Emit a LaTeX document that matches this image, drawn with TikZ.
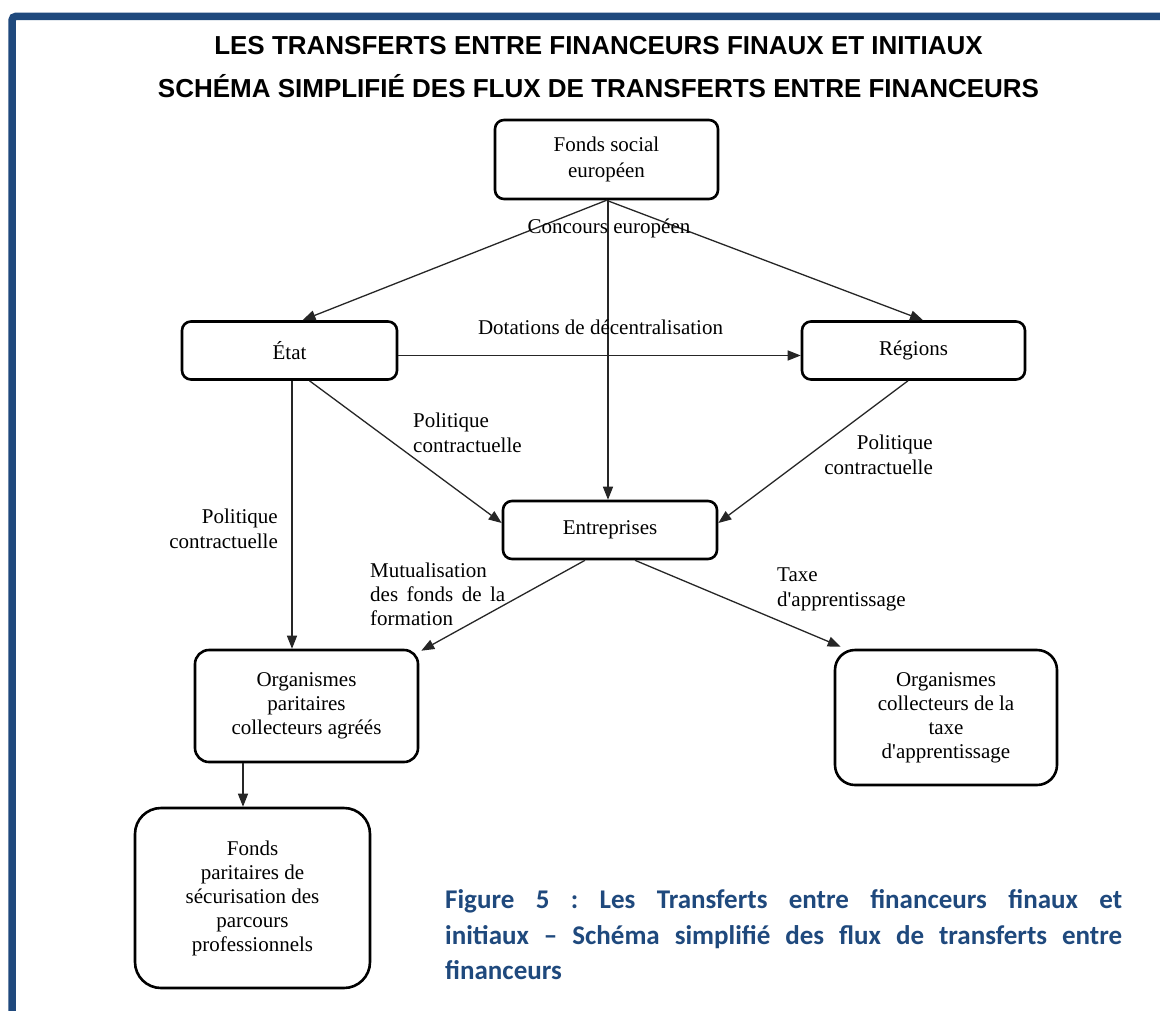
\documentclass[tikz,border=0pt]{standalone}
\usepackage{fontspec}
\setmainfont{Liberation Serif}
\newfontfamily\titlefont{Liberation Sans}
\newfontfamily\capfont{Carlito}
\usetikzlibrary{arrows.meta,calc}
\definecolor{frameblue}{RGB}{31,73,125}
\frenchspacing
\begin{document}
\begin{tikzpicture}[x=1pt,y=-1pt,
  box/.style={draw=black, line width=2.6pt, rounded corners=9pt, align=center, inner sep=0pt,
              font=\fontsize{21}{24}\selectfont},
  lbl/.style={font=\fontsize{21}{25}\selectfont, inner sep=0pt},
  arr/.style={draw=black!85, line width=1.3pt, -{Triangle[length=13pt,width=10pt]}},
  ttl/.style={font=\titlefont\bfseries\fontsize{26}{30}\selectfont, anchor=base, inner sep=0pt},
  captext/.style={font=\capfont\bfseries\fontsize{27}{35}\selectfont, text=frameblue, anchor=base west, inner sep=0pt}
]
\useasboundingbox (0,0) rectangle (1160,1010);
\fill[white] (0,0) rectangle (1160,1010);
\draw[frameblue, line width=7.5pt, rounded corners=4pt] (12,1020) -- (12,16.3) -- (1170,16.3);

% titles
\node[ttl] (t1) at (598.5,54) {LES TRANSFERTS ENTRE FINANCEURS FINAUX ET INITIAUX};
\node[ttl] (t2) at (598.5,97.5) {SCHÉMA SIMPLIFIÉ DES FLUX DE TRANSFERTS ENTRE FINANCEURS};

% boxes
\node[box, minimum width=223pt, minimum height=79pt, font=\fontsize{21}{26}\selectfont] (fse) at (606.5,159.5) {Fonds social\\européen};
\node[box, minimum width=215pt, minimum height=58pt] (etat) at (289.5,350.5) {État};
\node[box, minimum width=223pt, minimum height=58pt] (regions) at (913.5,350.5) {Régions};
\node[box, minimum width=214pt, minimum height=58pt] (ent) at (610,530) {Entreprises};
\node[box, minimum width=223pt, minimum height=112pt, rounded corners=14pt] (opca) at (306.5,706) {Organismes\\paritaires\\collecteurs agréés};
\node[box, minimum width=222pt, minimum height=135pt, rounded corners=20pt] (octa) at (946,717.5) {Organismes\\collecteurs de la\\taxe\\d\textquotesingle apprentissage};
\node[box, minimum width=235pt, minimum height=180pt, rounded corners=26pt] (fpsp) at (252.5,898) {Fonds\\paritaires de\\sécurisation des\\parcours\\professionnels};

% connectors
\coordinate (fb) at ($(fse.south)+(1.5,0)$);
\draw[arr] (fse.south) -- ($(etat.north)+(13,0)$);
\draw[arr] (fse.south) -- ($(regions.north)+(9.5,0)$);
\draw[arr] (fb) -- (fb |- ent.north);
\draw[arr] ($(etat.east)+(0,5)$) -- ($(regions.west)+(0,5)$);
\draw[arr] ($(etat.south)+(20,0)$) -- ($(ent.west)+(0,-7)$);
\draw[arr] ($(regions.south)+(-5.5,0)$) -- ($(ent.east)+(0,-7)$);
\coordinate (eb) at ($(etat.south)+(2.5,0)$);
\draw[arr] (eb) -- (eb |- opca.north);
\draw[arr] ($(ent.south)+(-25,0)$) -- ($(opca.north east)+(2,2)$);
\draw[arr] ($(ent.south)+(25,0)$) -- ($(octa.north west)+(7,-2)$);
\coordinate (ob) at ($(opca.south)+(-63.5,0)$);
\draw[arr] (ob) -- (ob |- fpsp.north);

% labels
\node[lbl] (l1) at (609,228) {Concours européen};
\node[lbl] (l2) at (600.5,327) {Dotations de décentralisation};
\node[lbl, anchor=west, align=left] (l3) at (413,432.5) {Politique\\contractuelle};
\node[lbl, anchor=east, align=right] (l4) at (933,454.5) {Politique\\contractuelle};
\node[lbl, anchor=east, align=right] (l5) at (278,528.5) {Politique\\contractuelle};
\node[lbl, anchor=west, align=left, font=\fontsize{21}{24}\selectfont] (l6) at (370,594) {Mutualisation\\\makebox[135pt][s]{des fonds de la}\\formation};
\node[lbl, anchor=west, align=left] (l7) at (777,589.5) {Taxe\\d\textquotesingle apprentissage};

% caption
\node[captext] (c1) at (445,908) {\makebox[677pt][s]{Figure 5 : Les Transferts entre financeurs finaux et}};
\node[captext] (c2) at (445,944) {\makebox[677pt][s]{initiaux – Schéma simplifié des flux de transferts entre}};
\node[captext] (c3) at (445,979) {financeurs};
\end{tikzpicture}
\end{document}
